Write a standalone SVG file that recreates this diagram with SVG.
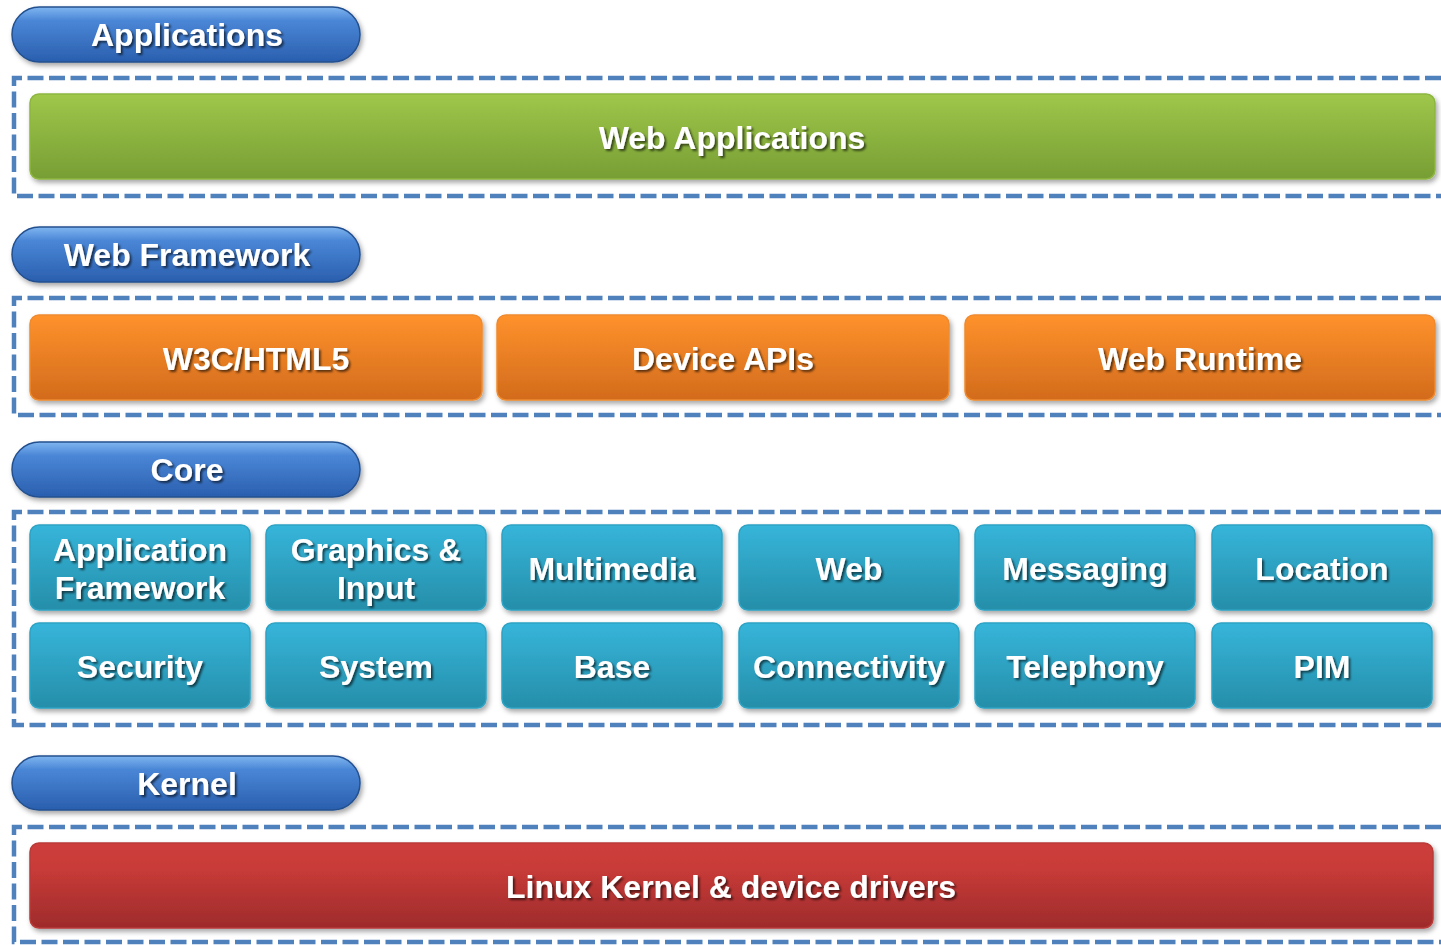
<svg xmlns="http://www.w3.org/2000/svg" width="1441" height="945" viewBox="0 0 1441 945">
<defs>
<linearGradient id="gBlue" x1="0" y1="0" x2="0" y2="1"><stop offset="0" stop-color="#7fb6f0"/><stop offset="0.25" stop-color="#4a86d6"/><stop offset="1" stop-color="#2a5fae"/></linearGradient>
<linearGradient id="gGreen" x1="0" y1="0" x2="0" y2="1"><stop offset="0" stop-color="#9fc74a"/><stop offset="1" stop-color="#779e34"/></linearGradient>
<linearGradient id="gOrange" x1="0" y1="0" x2="0" y2="1"><stop offset="0" stop-color="#ff922c"/><stop offset="1" stop-color="#d26b1c"/></linearGradient>
<linearGradient id="gTeal" x1="0" y1="0" x2="0" y2="1"><stop offset="0" stop-color="#36b5da"/><stop offset="1" stop-color="#268ea9"/></linearGradient>
<linearGradient id="gRed" x1="0" y1="0" x2="0" y2="1"><stop offset="0" stop-color="#cd3e3b"/><stop offset="0.3" stop-color="#c83b38"/><stop offset="1" stop-color="#9e2b2b"/></linearGradient>
<filter id="boxShadow" x="-5%" y="-20%" width="110%" height="150%"><feDropShadow dx="2" dy="3" stdDeviation="2.5" flood-color="#000" flood-opacity="0.35"/></filter>
<filter id="txtShadow" x="-10%" y="-30%" width="120%" height="160%"><feDropShadow dx="2" dy="2" stdDeviation="1.2" flood-color="#000" flood-opacity="0.6"/></filter>
</defs>
<style>
.dash{fill:none;stroke:#4f81bd;stroke-width:4.5;stroke-dasharray:16 5.5}
.pill{fill:url(#gBlue);stroke:#24508f;stroke-width:1.5;filter:url(#boxShadow)}
.green{fill:url(#gGreen);stroke:#8db640;stroke-width:1.5;filter:url(#boxShadow)}
.orange{fill:url(#gOrange);stroke:#f08a2e;stroke-width:1.5;filter:url(#boxShadow)}
.teal{fill:url(#gTeal);stroke:#2ea3c4;stroke-width:1.5;filter:url(#boxShadow)}
.red{fill:url(#gRed);stroke:#b93a38;stroke-width:1.5;filter:url(#boxShadow)}
text{font-family:"Liberation Sans",Arial,sans-serif;font-weight:bold;fill:#fff;text-anchor:middle;filter:url(#txtShadow)}
.big{font-size:32px}
.cell{font-size:32px}
</style>
<rect width="1441" height="945" fill="#fff"/>
<g id="containers">
<path class="dash" d="M1441,78 H14 V196 H1441"/>
<path class="dash" d="M1441,298 H14 V415 H1441"/>
<path class="dash" d="M1441,512 H14 V725 H1441"/>
<path class="dash" d="M1441,827 H14 V942 H1441"/>
</g>
<g id="pill-applications"><rect class="pill" x="12" y="7" width="348" height="55" rx="27.5"/><text class="big" x="187" y="46">Applications</text></g>
<g id="pill-webframework"><rect class="pill" x="12" y="227" width="348" height="55" rx="27.5"/><text class="big" x="187" y="266">Web Framework</text></g>
<g id="pill-core"><rect class="pill" x="12" y="442" width="348" height="55" rx="27.5"/><text class="big" x="187" y="481">Core</text></g>
<g id="pill-kernel"><rect class="pill" x="12" y="756" width="348" height="54" rx="27"/><text class="big" x="187" y="795">Kernel</text></g>
<g id="web-applications"><rect class="green" x="30" y="94" width="1405" height="85" rx="9"/><text class="big" x="732" y="149">Web Applications</text></g>
<g id="w3c-html5"><rect class="orange" x="30" y="315" width="452" height="85" rx="9"/><text class="big" x="256" y="370">W3C/HTML5</text></g>
<g id="device-apis"><rect class="orange" x="497" y="315" width="452" height="85" rx="9"/><text class="big" x="723" y="370">Device APIs</text></g>
<g id="web-runtime"><rect class="orange" x="965" y="315" width="470" height="85" rx="9"/><text class="big" x="1200" y="370">Web Runtime</text></g>
<g id="application-framework"><rect class="teal" x="30" y="525" width="220" height="85" rx="9"/><text class="cell" x="140" y="561">Application</text><text class="cell" x="140" y="599">Framework</text></g>
<g id="graphics-input"><rect class="teal" x="266" y="525" width="220" height="85" rx="9"/><text class="cell" x="376" y="561">Graphics &amp;</text><text class="cell" x="376" y="599">Input</text></g>
<g id="multimedia"><rect class="teal" x="502" y="525" width="220" height="85" rx="9"/><text class="cell" x="612" y="580">Multimedia</text></g>
<g id="web"><rect class="teal" x="739" y="525" width="220" height="85" rx="9"/><text class="cell" x="849" y="580">Web</text></g>
<g id="messaging"><rect class="teal" x="975" y="525" width="220" height="85" rx="9"/><text class="cell" x="1085" y="580">Messaging</text></g>
<g id="location"><rect class="teal" x="1212" y="525" width="220" height="85" rx="9"/><text class="cell" x="1322" y="580">Location</text></g>
<g id="security"><rect class="teal" x="30" y="623" width="220" height="85" rx="9"/><text class="cell" x="140" y="678">Security</text></g>
<g id="system"><rect class="teal" x="266" y="623" width="220" height="85" rx="9"/><text class="cell" x="376" y="678">System</text></g>
<g id="base"><rect class="teal" x="502" y="623" width="220" height="85" rx="9"/><text class="cell" x="612" y="678">Base</text></g>
<g id="connectivity"><rect class="teal" x="739" y="623" width="220" height="85" rx="9"/><text class="cell" x="849" y="678">Connectivity</text></g>
<g id="telephony"><rect class="teal" x="975" y="623" width="220" height="85" rx="9"/><text class="cell" x="1085" y="678">Telephony</text></g>
<g id="pim"><rect class="teal" x="1212" y="623" width="220" height="85" rx="9"/><text class="cell" x="1322" y="678">PIM</text></g>
<g id="linux-kernel"><rect class="red" x="30" y="843" width="1403" height="85" rx="9"/><text class="big" x="731" y="898">Linux Kernel &amp; device drivers</text></g>
<g id="connectors"></g>
</svg>
